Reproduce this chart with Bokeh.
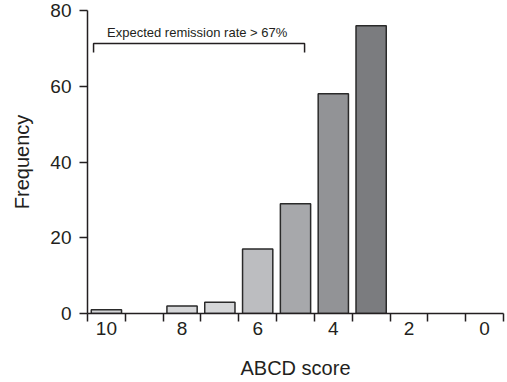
from bokeh.plotting import figure
from bokeh.models import Range1d, FixedTicker, ColumnDataSource
from bokeh.core.properties import value
from bokeh.embed import file_html
from bokeh.resources import INLINE

# ---- data ----
scores = [10, 9, 8, 7, 6, 5, 4, 3, 2, 1, 0]
frequency = [1, 0, 2, 3, 17, 29, 58, 76, 0, 0, 0]
bar_colors = ["#d5d6d8", "#d5d6d8", "#d5d6d8", "#d5d6d8", "#bcbdc0",
              "#a7a8ab", "#929396", "#7b7c7f", "#7b7c7f", "#7b7c7f", "#7b7c7f"]
x_tick_labels = [10, 8, 6, 4, 2, 0]
y_ticks = [0, 20, 40, 60, 80]
bracket_x = [10.34, 10.34, 4.76, 4.76]
bracket_y = [68.9, 71.3, 71.3, 68.9]
note_text = "Expected remission rate > 67%"
note_x = 7.6
note_y = 74.3

FONT = "Liberation Sans"
INK = "#231f20"

keep = [i for i, f in enumerate(frequency) if f > 0]
src = ColumnDataSource(dict(
    x=[scores[i] for i in keep],
    top=[frequency[i] for i in keep],
    color=[bar_colors[i] for i in keep],
))

p = figure(width=507, height=382, output_backend="svg", toolbar_location=None,
           x_range=Range1d(10.5, -0.5), y_range=Range1d(0, 80),
           min_border_left=87, min_border_right=4, min_border_top=10,
           min_border_bottom=69)
p.outline_line_color = None
p.grid.visible = False
p.background_fill_color = "white"
p.border_fill_color = "white"

p.vbar(x="x", top="top", bottom=0, width=0.8, source=src,
       fill_color="color", line_color="#2a2a2a", line_width=1.5)

p.line(bracket_x, bracket_y, line_color=INK, line_width=1.5)
p.text(x=[note_x], y=[note_y], text=[note_text], text_align="center",
       text_baseline="alphabetic", text_font=value(FONT),
       text_font_size="13px", text_color=INK)

# x axis
xa = p.xaxis[0]
boundaries = [s + 0.5 for s in scores] + [scores[-1] - 0.5]
xa.ticker = FixedTicker(ticks=x_tick_labels, minor_ticks=boundaries)
xa.major_tick_line_color = None
xa.major_tick_out = 8
xa.major_tick_in = 0
xa.minor_tick_out = 8
xa.minor_tick_in = 0
xa.minor_tick_line_color = INK
xa.minor_tick_line_width = 1.5
xa.axis_line_color = INK
xa.axis_line_width = 1.5
xa.major_label_standoff = 0
xa.major_label_text_font = FONT
xa.major_label_text_font_size = "19px"
xa.major_label_text_color = INK
xa.axis_label = "ABCD score"
xa.axis_label_text_font = FONT
xa.axis_label_text_font_size = "20px"
xa.axis_label_text_font_style = "normal"
xa.axis_label_text_color = INK
xa.axis_label_standoff = 19

# y axis
ya = p.yaxis[0]
ya.ticker = FixedTicker(ticks=y_ticks)
ya.minor_tick_line_color = None
ya.major_tick_out = 8
ya.major_tick_in = 0
ya.major_tick_line_color = INK
ya.major_tick_line_width = 1.5
ya.axis_line_color = INK
ya.axis_line_width = 1.5
ya.major_label_standoff = 8
ya.major_label_text_font = FONT
ya.major_label_text_font_size = "19px"
ya.major_label_text_color = INK
ya.axis_label = "Frequency"
ya.axis_label_text_font = FONT
ya.axis_label_text_font_size = "20px"
ya.axis_label_text_font_style = "normal"
ya.axis_label_text_color = INK
ya.axis_label_standoff = 14

open("out.html", "w").write(file_html(p, INLINE))
